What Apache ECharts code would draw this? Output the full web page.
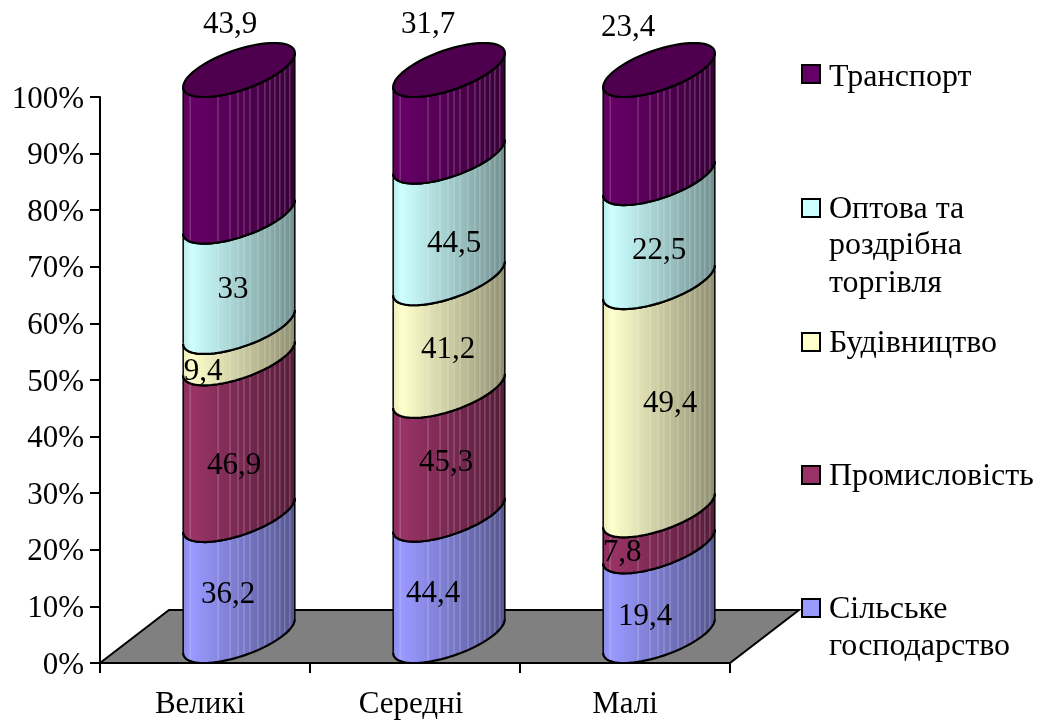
<!DOCTYPE html>
<html>
<head>
<meta charset="utf-8">
<style>html,body{margin:0;padding:0;background:#fff}#c{width:1041px;height:720px}</style>
<script src="https://cdn.jsdelivr.net/npm/echarts@6/dist/echarts.min.js"></script>
</head>
<body>
<div id="c"></div>
<script>
var categories = ['Великі', 'Середні', 'Малі'];
var seriesNames = ['Сільське\nгосподарство', 'Промисловість', 'Будівництво', 'Оптова та\nроздрібна\nторгівля', 'Транспорт'];
var agriculture = [36.2, 44.4, 19.4];
var industry = [46.9, 45.3, 7.8];
var construction = [9.4, 41.2, 49.4];
var trade = [33, 44.5, 22.5];
var transport = [43.9, 31.7, 23.4];
var colors = ['#9999ff', '#993366', '#ffffcc', '#ccffff', '#660066'];

var FONT = '"Liberation Serif","Times New Roman",serif';
var FS = 31, LEGEND_FS = 32;
var values = [agriculture, industry, construction, trade, transport];
var labelDX = [[-11,-16,-14],[-5,-3,-37],[-36,-1,11],[-6,5,0],[-9,-21,-31]];
var labelDY = [[-8,-8,-1],[2,-17,-2],[2,-12,-19],[-9,-1,-6],[-145,-115,-123]];
var iconCenters = [606.5, 473.5, 340.5, 206.5, 73.5];
var legendTop = [593.5, 460.5, 327.5, 193.5, 61.5];
var firstLineY = [608, 474, 341, 207, 76];
var legendTextShift = [3, 3, 3, 3, 7];
var facetX = [7,35,47,55,61,67,75,82,87,92,97,102,107];

var R = 56, A = 43.5, B = 35, H = 27, T0 = Math.atan2(B, A);
var FLOOR_DX = 69, FLOOR_DY = 53;

function shade(hex, k) {
  var n = parseInt(hex.slice(1), 16);
  var r = Math.round(((n >> 16) & 255) * k), g = Math.round(((n >> 8) & 255) * k), b = Math.round((n & 255) * k);
  return 'rgb(' + r + ',' + g + ',' + b + ')';
}
// point of the ellipse whose lowest point sits at screen y = yv
function ell(cx, yv, t) {
  return [cx + A * Math.cos(t) + B * Math.sin(t), yv - H - H * Math.sin(t)];
}
function frontCurve(cx, yv) {
  var pts = [], n = 48;
  for (var i = 0; i <= n; i++) pts.push(ell(cx, yv, T0 + Math.PI + Math.PI * i / n));
  return pts;
}
function frontAt(cx, yv, dx) {
  var phi = Math.acos((dx - R) / R); // angle from the right extreme
  return ell(cx, yv, T0 + 2 * Math.PI - phi);
}

function renderFloor(params, api) {
  var s = params.coordSys;
  var b = s.y + s.height;
  return {
    type: 'polygon', silent: true,
    shape: { points: [[s.x, b], [s.x + FLOOR_DX, b - FLOOR_DY], [s.x + s.width + FLOOR_DX, b - FLOOR_DY], [s.x + s.width, b]] },
    style: { fill: '#808080', stroke: '#000', lineWidth: 2 }
  };
}

function makeRender(si) {
  var base = colors[si];
  return function (params, api) {
    var c = api.value(0);
    var raw = api.value(1);
    var p0 = api.coord([c, api.value(2)]);
    var p1 = api.coord([c, api.value(3)]);
    var cx = p0[0] + 34, y0 = p0[1], y1 = p1[1];
    var bottom = frontCurve(cx, y0), top = frontCurve(cx, y1);
    var poly = bottom.concat(top.slice().reverse());
    var kids = [{
      type: 'polygon', shape: { points: poly },
      style: { fill: new echarts.graphic.LinearGradient(0, 0, 1, 0, [
        { offset: 0, color: shade(base, 0.92) },
        { offset: 0.08, color: shade(base, 1) },
        { offset: 0.5, color: shade(base, 0.8) },
        { offset: 1, color: shade(base, 0.56) }
      ]), stroke: null }
    }];
    facetX.forEach(function (dx) {
      var a = frontAt(cx, y0, dx), b = frontAt(cx, y1, dx);
      kids.push({ type: 'line', shape: { x1: a[0], y1: a[1], x2: b[0], y2: b[1] },
        style: { stroke: 'rgba(255,255,255,0.28)', lineWidth: 1 } });
    });
    kids.push({ type: 'polyline', shape: { points: bottom }, style: { fill: null, stroke: '#000', lineWidth: 2.2 } });
    kids.push({ type: 'polyline', shape: { points: top }, style: { fill: null, stroke: '#000', lineWidth: 2.2 } });
    kids.push({ type: 'polyline', shape: { points: [bottom[0], top[0]] }, style: { fill: null, stroke: '#000', lineWidth: 1.5 } });
    kids.push({ type: 'polyline', shape: { points: [bottom[bottom.length - 1], top[top.length - 1]] }, style: { fill: null, stroke: '#000', lineWidth: 1.5 } });
    if (si === values.length - 1) {
      var ring = [];
      for (var i = 0; i < 72; i++) ring.push(ell(cx, y1, 2 * Math.PI * i / 72));
      kids.push({ type: 'polygon', shape: { points: ring }, style: { fill: shade(base, 0.76), stroke: '#000', lineWidth: 2.2 } });
    }
    kids.push({
      type: 'text', z2: 100,
      style: {
        text: String(raw).replace('.', ','),
        x: cx + labelDX[si][c], y: (y0 + y1) / 2 + labelDY[si][c],
        align: 'center', verticalAlign: 'middle',
        font: FS + 'px ' + FONT, fill: '#000'
      }
    });
    return { type: 'group', children: kids };
  };
}

var series = [{
  type: 'custom', name: 'floor', silent: true, clip: false,
  coordinateSystem: 'cartesian2d', renderItem: renderFloor, data: [[0, 0]], z: 1
}];
var cum = categories.map(function () { return 0; });
var totals = categories.map(function (_, c) {
  return values.reduce(function (s, arr) { return s + arr[c]; }, 0);
});
values.forEach(function (arr, si) {
  var data = arr.map(function (v, c) {
    var a = cum[c] / totals[c] * 100;
    cum[c] += v;
    return [c, v, a, cum[c] / totals[c] * 100];
  });
  series.push({
    type: 'custom', name: seriesNames[si], clip: false, silent: true,
    coordinateSystem: 'cartesian2d',
    itemStyle: { color: colors[si] },
    encode: { x: 0, y: 3 },
    renderItem: makeRender(si), data: data, z: 2 + si
  });
});

var legends = seriesNames.map(function (name, si) {
  var rich = {};
  rich.t = { fontFamily: FONT, fontSize: LEGEND_FS, color: '#000', padding: [legendTextShift[si], 0, 0, 4] };
  return {
    show: true, data: [{ name: name, icon: 'rect' }], selectedMode: false,
    orient: 'vertical', left: 801, top: legendTop[si], padding: 0,
    itemWidth: 18, itemHeight: 18, itemGap: 0,
    itemStyle: { borderColor: '#000', borderWidth: 2, color: colors[si] },
    formatter: function (n) { return '{t|' + n.split('\n')[0] + '}'; },
    textStyle: { fontFamily: FONT, fontSize: LEGEND_FS, color: '#000', rich: rich }
  };
});
var graphics = [];
seriesNames.forEach(function (name, si) {
  name.split('\n').slice(1).forEach(function (line, i) {
    graphics.push({
      type: 'text', left: 829, top: firstLineY[si] + 38 * (i + 1) - 15,
      style: { text: line, font: LEGEND_FS + 'px ' + FONT, fill: '#000' }
    });
  });
});

var chart = echarts.init(document.getElementById('c'), null, { renderer: 'canvas' });
chart.setOption({
  animation: false,
  backgroundColor: '#fff',
  grid: { left: 100, right: 311, top: 97, bottom: 57 },
  xAxis: {
    type: 'category', data: categories,
    axisLine: { lineStyle: { color: '#000', width: 2 } },
    axisTick: { show: true, length: 10, lineStyle: { color: '#000', width: 2 } },
    axisLabel: { color: '#000', fontFamily: FONT, fontSize: FS, margin: 26,
      formatter: function (v, i) { return i === 0 ? '{a|' + v + '}' : i === 1 ? '{b|' + v + '}' : v; },
      rich: {
        a: { fontFamily: FONT, fontSize: FS, color: '#000', padding: [0, 10, 0, 0] },
        b: { fontFamily: FONT, fontSize: FS, color: '#000', padding: [0, 8, 0, 0] }
      }
    },
    splitLine: { show: false }
  },
  yAxis: {
    type: 'value', min: 0, max: 100, interval: 10,
    axisLine: { show: true, lineStyle: { color: '#000', width: 2 } },
    axisTick: { show: true, length: 10, lineStyle: { color: '#000', width: 2 } },
    axisLabel: { color: '#000', fontFamily: FONT, fontSize: FS, margin: 16,
      formatter: function (v) { return '{p|' + v + '%}'; },
      rich: { p: { fontFamily: FONT, fontSize: FS, color: '#000', padding: [5, 0, 0, 0] } }
    },
    splitLine: { show: false }
  },
  legend: legends,
  graphic: graphics,
  series: series
});
</script>
</body>
</html>
